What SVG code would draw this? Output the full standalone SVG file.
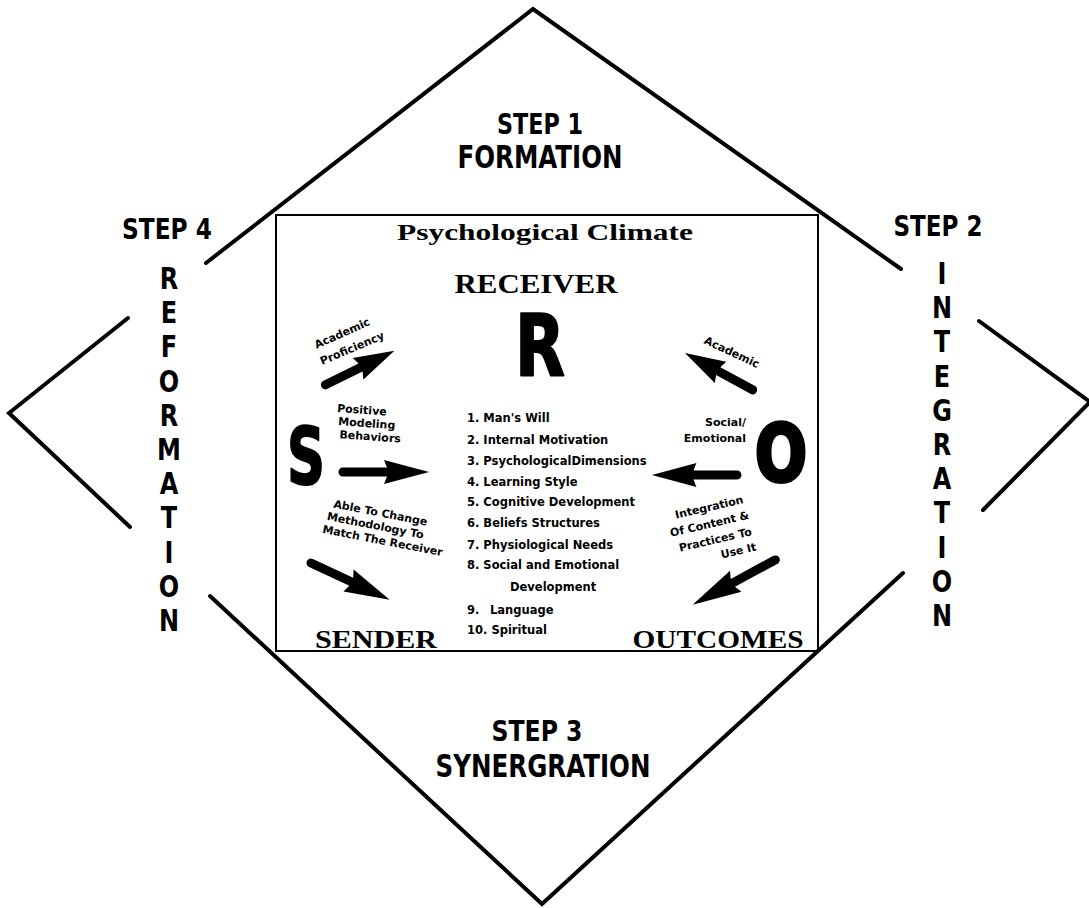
<svg xmlns="http://www.w3.org/2000/svg" xmlns:xlink="http://www.w3.org/1999/xlink" width="1089" height="908" viewBox="0 0 1089 908">
<style>
  .edge{fill:none;stroke:#000;stroke-width:4;stroke-linecap:round;stroke-linejoin:miter}
  .step{font-family:"DejaVu Sans",sans-serif;font-weight:bold;fill:#000}
  .vert{font-family:"DejaVu Sans",sans-serif;font-weight:bold;font-size:30px;fill:#000;text-anchor:middle}
  .serif{font-family:"Liberation Serif","Times New Roman",serif;font-weight:bold;fill:#000}
  .big{font-family:"DejaVu Sans",sans-serif;font-weight:bold;fill:#000;stroke:#000;stroke-linejoin:round}
  .lbl{font-family:"DejaVu Sans",sans-serif;font-weight:bold;font-size:11px;fill:#000}
  .list{font-family:"DejaVu Sans",sans-serif;font-weight:bold;font-size:11.5px;fill:#000}
  .mid{text-anchor:middle}
  .end{text-anchor:end}
</style>
<defs>
  <path id="arrow" d="M0,-4.5 L44,-4.5 L41,-12 L86,0 L41,12 L44,4.5 L0,4.5 A4.5,4.5 0 0 1 0,-4.5 Z" fill="#000"/>
</defs>
<rect width="1089" height="908" fill="#fff"/>

<g id="diamond">
  <polyline class="edge" points="206,263 533,9 901,269"/>
  <polyline class="edge" points="128,318 9,413 130,527"/>
  <polyline class="edge" points="979,321 1090,402 983,510"/>
  <polyline class="edge" points="210,596 542,904 903,573"/>
</g>

<g id="step1">
  <text class="step mid" x="540" y="134" font-size="29" textLength="86" lengthAdjust="spacingAndGlyphs">STEP 1</text>
  <text class="step mid" x="540" y="168" font-size="32" textLength="165" lengthAdjust="spacingAndGlyphs">FORMATION</text>
</g>
<g id="step2">
  <text class="step mid" x="938" y="236" font-size="28" textLength="89" lengthAdjust="spacingAndGlyphs">STEP 2</text>
  <g transform="translate(942,0) scale(0.8,1)">
    <text class="vert" x="0" y="284">I</text>
    <text class="vert" x="0" y="318.2">N</text>
    <text class="vert" x="0" y="352.4">T</text>
    <text class="vert" x="0" y="386.6">E</text>
    <text class="vert" x="0" y="420.8">G</text>
    <text class="vert" x="0" y="455">R</text>
    <text class="vert" x="0" y="489.2">A</text>
    <text class="vert" x="0" y="523.4">T</text>
    <text class="vert" x="0" y="557.6">I</text>
    <text class="vert" x="0" y="591.8">O</text>
    <text class="vert" x="0" y="626">N</text>
  </g>
</g>
<g id="step3">
  <text class="step mid" x="537" y="741" font-size="29" textLength="91" lengthAdjust="spacingAndGlyphs">STEP 3</text>
  <text class="step mid" x="543" y="777" font-size="32" textLength="215" lengthAdjust="spacingAndGlyphs">SYNERGRATION</text>
</g>
<g id="step4">
  <text class="step mid" x="167" y="239" font-size="28" textLength="90" lengthAdjust="spacingAndGlyphs">STEP 4</text>
  <g transform="translate(169,0) scale(0.8,1)">
    <text class="vert" x="0" y="289">R</text>
    <text class="vert" x="0" y="323.2">E</text>
    <text class="vert" x="0" y="357.4">F</text>
    <text class="vert" x="0" y="391.6">O</text>
    <text class="vert" x="0" y="425.8">R</text>
    <text class="vert" x="0" y="460">M</text>
    <text class="vert" x="0" y="494.2">A</text>
    <text class="vert" x="0" y="528.4">T</text>
    <text class="vert" x="0" y="562.6">I</text>
    <text class="vert" x="0" y="596.8">O</text>
    <text class="vert" x="0" y="631">N</text>
  </g>
</g>

<g id="climate">
  <rect x="276" y="215" width="542" height="436" fill="none" stroke="#000" stroke-width="2"/>
  <text class="serif mid" x="545" y="240" font-size="23" textLength="296" lengthAdjust="spacingAndGlyphs">Psychological Climate</text>
</g>

<g id="receiver">
  <text class="serif mid" x="536" y="293" font-size="27" textLength="163" lengthAdjust="spacingAndGlyphs">RECEIVER</text>
  <text class="big" x="515" y="376" font-size="86" stroke-width="2" textLength="50" lengthAdjust="spacingAndGlyphs">R</text>
</g>

<g id="sender">
  <text class="big" x="287" y="484" font-size="79" stroke-width="2" textLength="38" lengthAdjust="spacingAndGlyphs">S</text>
  <text class="serif mid" x="376" y="648" font-size="26" textLength="122" lengthAdjust="spacingAndGlyphs">SENDER</text>
  <text class="lbl mid" x="342" y="337" transform="rotate(-24 342 333)">Academic</text>
  <text class="lbl mid" x="352" y="352" transform="rotate(-23 352 348)">Proficiency</text>
  <g transform="rotate(4 337 412)">
    <text class="lbl" x="337" y="412">Positive</text>
    <text class="lbl" x="339" y="425">Modeling</text>
    <text class="lbl" x="341" y="438">Behaviors</text>
  </g>
  <g transform="translate(331,507) rotate(11)">
    <text class="lbl" x="2" y="0" font-size="11.5">Able To Change</text>
    <text class="lbl" x="-2" y="13.5" font-size="11.5">Methodology To</text>
    <text class="lbl" x="-4" y="27" font-size="11.5">Match The Receiver</text>
  </g>
</g>

<g id="outcomes">
  <text class="big" x="755" y="481" font-size="78" stroke-width="4" textLength="52" lengthAdjust="spacingAndGlyphs">O</text>
  <text class="serif mid" x="718" y="648" font-size="26" textLength="171" lengthAdjust="spacingAndGlyphs">OUTCOMES</text>
  <text class="lbl mid" x="732" y="356" transform="rotate(25 732 352)">Academic</text>
  <text class="lbl end" x="746" y="426">Social/</text>
  <text class="lbl end" x="746" y="442">Emotional</text>
  <g transform="translate(744,503) rotate(-13)">
    <text class="lbl end" x="0" y="0" font-size="11.5">Integration</text>
    <text class="lbl end" x="2" y="16.5" font-size="11.5">Of Content &amp;</text>
    <text class="lbl end" x="1" y="33" font-size="11.5">Practices To</text>
    <text class="lbl end" x="2" y="49" font-size="11.5">Use It</text>
  </g>
</g>

<g id="factors" class="list">
  <text x="467" y="422">1. Man's Will</text>
  <text x="467" y="444">2. Internal Motivation</text>
  <text x="467" y="465">3. PsychologicalDimensions</text>
  <text x="467" y="486">4. Learning Style</text>
  <text x="467" y="506">5. Cognitive Development</text>
  <text x="467" y="527">6. Beliefs Structures</text>
  <text x="467" y="549">7. Physiological Needs</text>
  <text x="467" y="569">8. Social and Emotional</text>
  <text x="510" y="591">Development</text>
  <text y="614"><tspan x="467">9.</tspan><tspan x="490">Language</tspan></text>
  <text x="467" y="634">10. Spiritual</text>
</g>

<g id="connectors">
  <use xlink:href="#arrow" transform="translate(325,385) rotate(-26.2) scale(0.9,1)"/>
  <use xlink:href="#arrow" transform="translate(343,472)"/>
  <use xlink:href="#arrow" transform="translate(311,563) rotate(25) scale(1.01,1)"/>
  <use xlink:href="#arrow" transform="translate(753,390) rotate(-151.5) scale(0.9,1)"/>
  <use xlink:href="#arrow" transform="translate(737,475) rotate(180) scale(0.99,1)"/>
  <use xlink:href="#arrow" transform="translate(775,560) rotate(151.5) scale(1.09,1)"/>
</g>
</svg>
